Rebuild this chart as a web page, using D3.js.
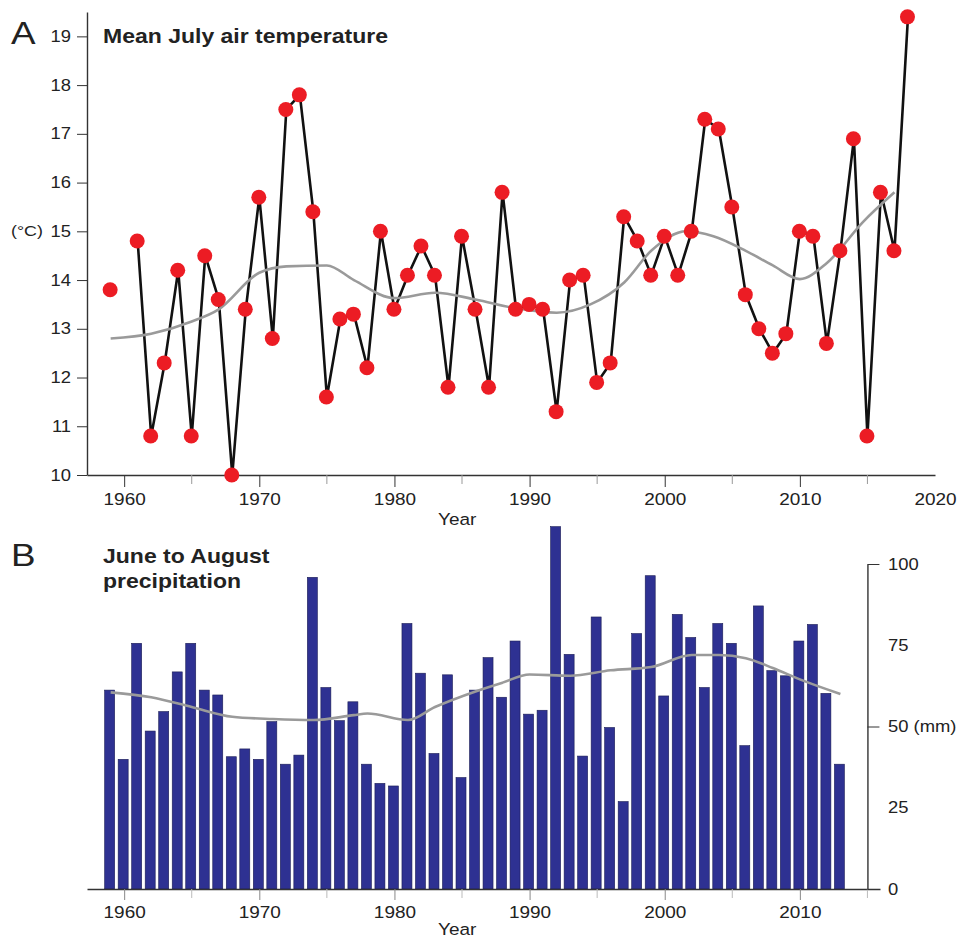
<!DOCTYPE html>
<html>
<head>
<meta charset="utf-8">
<script src="https://cdn.jsdelivr.net/npm/d3@7"></script>
<style>
  html, body { margin: 0; padding: 0; background: #fff; }
  svg { display: block; font-family: "Liberation Sans", Arial, sans-serif; }
</style>
</head>
<body>
<svg id="chart" width="961" height="938"></svg>
<script>
// Mean July air temperature (°C), 1959–2018 (1960 missing)
const tempYears = d3.range(1959, 2019);
const tempValues = [13.8, null, 14.8, 10.8, 12.3, 14.2, 10.8, 14.5, 13.6, 10.0,
  13.4, 15.7, 12.8, 17.5, 17.8, 15.4, 11.6, 13.2, 13.3, 12.2,
  15.0, 13.4, 14.1, 14.7, 14.1, 11.8, 14.9, 13.4, 11.8, 15.8,
  13.4, 13.5, 13.4, 11.3, 14.0, 14.1, 11.9, 12.3, 15.3, 14.8,
  14.1, 14.9, 14.1, 15.0, 17.3, 17.1, 15.5, 13.7, 13.0, 12.5,
  12.9, 15.0, 14.9, 12.7, 14.6, 16.9, 10.8, 15.8, 14.6, 19.4];

// Smoothed temperature trend
const tempTrendYears = [1959, 1962, 1965, 1967, 1970, 1972, 1975, 1977, 1980, 1983, 1986, 1989, 1992, 1994.5, 1997, 1999, 2001.6, 2003.6, 2006, 2008, 2010, 2012, 2014.7, 2017];
const tempTrendValues = [12.8, 12.9, 13.15, 13.4, 14.15, 14.28, 14.3, 14.0, 13.63, 13.74, 13.6, 13.42, 13.33, 13.5, 13.95, 14.6, 15.0, 14.9, 14.6, 14.3, 14.02, 14.35, 15.2, 15.8];

// June to August precipitation (mm), 1959–2013
const precipYears = d3.range(1959, 2014);
const precipValues = [61.2, 39.9, 75.6, 48.6, 54.6, 66.8, 75.6, 61.2, 59.7, 40.7,
  43.1, 39.9, 51.5, 38.4, 41.2, 95.9, 62.0, 51.8, 57.6, 38.4,
  32.5, 31.7, 81.7, 66.4, 41.7, 65.9, 34.3, 61.2, 71.2, 59.0,
  76.3, 53.8, 55.0, 111.5, 72.2, 40.9, 83.7, 49.7, 26.9, 78.6,
  96.4, 59.4, 84.5, 77.4, 62.0, 81.7, 75.6, 44.1, 87.1, 67.2,
  65.6, 76.3, 81.4, 60.2, 38.4];

// Smoothed precipitation trend
const precipTrendYears = [1959, 1962, 1965, 1968, 1971, 1974, 1977, 1978, 1981, 1983, 1986, 1988, 1990, 1993, 1996, 1999, 2002, 2004, 2006, 2008, 2010, 2013];
const precipTrendValues = [60.5, 59.0, 56.0, 53.0, 52.3, 52.0, 53.5, 54.0, 52.0, 56.0, 60.8, 63.5, 66.0, 65.6, 67.3, 68.3, 72.0, 72.0, 71.0, 68.0, 64.5, 60.0];

const tempTicks = d3.range(10, 20);
const decadeTicks = [1960, 1970, 1980, 1990, 2000, 2010, 2020];
const halfDecadeTicks = [1965, 1975, 1985, 1995, 2005, 2015];
const precipTicks = [0, 25, 50, 75, 100];

const svg = d3.select("#chart");
const ink = "#333";
const stretch = "scale(1.15,1)";

function text(x, y, str, size, weight, anchor) {
  svg.append("text")
    .attr("transform", `translate(${x},${y}) ${stretch}`)
    .attr("font-size", size)
    .attr("font-weight", weight || "normal")
    .attr("text-anchor", anchor || "start")
    .attr("fill", "#222")
    .text(str);
}

function styleAxis(g) {
  g.selectAll("path.domain").attr("stroke", ink).attr("stroke-width", 1.4);
  g.selectAll(".tick line").attr("stroke", ink).attr("stroke-width", 1);
  g.selectAll(".tick text").attr("fill", "#222").attr("transform", stretch)
    .attr("font-family", "Liberation Sans, Arial, sans-serif");
}

// ---------- Panel A: temperature ----------
const x = d3.scaleLinear().domain([1957.25, 2020]).range([87, 935]);
const yT = d3.scaleLinear().domain([10, 19.5]).range([475, 12]);

const gxA = svg.append("g").attr("transform", "translate(0,475)")
  .call(d3.axisBottom(x).tickValues(decadeTicks).tickFormat(d3.format("d")).tickSize(12).tickSizeOuter(0).tickPadding(6))
  .attr("font-size", 16.5);
styleAxis(gxA);
gxA.selectAll(".tick").filter(d => d === 2020).select("line").remove();
svg.append("g").attr("transform", "translate(0,475)")
  .selectAll("line").data(halfDecadeTicks).join("line")
  .attr("x1", d => x(d)).attr("x2", d => x(d)).attr("y1", 0).attr("y2", 9)
  .attr("stroke", "#999").attr("stroke-width", 1);

const gyA = svg.append("g").attr("transform", "translate(87,0)")
  .call(d3.axisLeft(yT).tickValues(tempTicks).tickFormat(d3.format("d")).tickSize(10).tickSizeOuter(0).tickPadding(3))
  .attr("font-size", 16);
styleAxis(gyA);
gyA.selectAll(".tick text").attr("transform", "translate(-1,0) " + stretch);

// yearly series line (gap where data are missing)
svg.append("path")
  .datum(tempYears.map((yr, i) => [yr, tempValues[i]]))
  .attr("fill", "none").attr("stroke", "#111").attr("stroke-width", 2.6)
  .attr("stroke-linejoin", "round")
  .attr("d", d3.line().defined(d => d[1] !== null).x(d => x(d[0])).y(d => yT(d[1])));

// trend curve
svg.append("path")
  .datum(tempTrendYears.map((yr, i) => [yr, tempTrendValues[i]]))
  .attr("fill", "none").attr("stroke", "#9a9a9a").attr("stroke-width", 2.6)
  .attr("d", d3.line().curve(d3.curveMonotoneX).x(d => x(d[0])).y(d => yT(d[1])));

// points
svg.append("g").selectAll("circle")
  .data(tempYears.map((yr, i) => [yr, tempValues[i]]).filter(d => d[1] !== null))
  .join("circle")
  .attr("cx", d => x(d[0]) - 0.5).attr("cy", d => yT(d[1])).attr("r", 7.5)
  .attr("fill", "#ec1c24");

text(11, 44, "A", 32);
text(103, 43, "Mean July air temperature", 20, "bold");
text(11, 236, "(°C)", 15.5);
text(438, 525, "Year", 16.5);

// ---------- Panel B: precipitation ----------
const yP = d3.scaleLinear().domain([0, 100]).range([889, 564]);
const barW = 10;

svg.append("g").selectAll("rect")
  .data(precipYears.map((yr, i) => [yr, precipValues[i]]))
  .join("rect")
  .attr("x", d => x(d[0]) - 1 - barW / 2)
  .attr("y", d => yP(d[1]))
  .attr("width", barW)
  .attr("height", d => yP(0) - yP(d[1]))
  .attr("fill", "#2e3192")
  .attr("stroke", "#1b1d55").attr("stroke-width", 0.6);

svg.append("path")
  .datum(precipTrendYears.map((yr, i) => [yr, precipTrendValues[i]]))
  .attr("fill", "none").attr("stroke", "#9a9a9a").attr("stroke-width", 2.6)
  .attr("d", d3.line().curve(d3.curveMonotoneX).x(d => x(d[0])).y(d => yP(d[1])));

// bottom year axis
const xB = x.copy().domain([1957.25, x.invert(880)]).range([87, 880]);
const gxB = svg.append("g").attr("transform", "translate(0,889)")
  .call(d3.axisBottom(xB).tickValues(decadeTicks.slice(0, 6)).tickFormat(d3.format("d")).tickSize(11).tickSizeOuter(0).tickPadding(6))
  .attr("font-size", 16.5);
styleAxis(gxB);
gxB.selectAll(".tick line").attr("stroke", "#888");
svg.append("g").attr("transform", "translate(0,889)")
  .selectAll("line").data(halfDecadeTicks).join("line")
  .attr("x1", d => x(d)).attr("x2", d => x(d)).attr("y1", 0).attr("y2", 9)
  .attr("stroke", "#bbb").attr("stroke-width", 1);

// right-hand precipitation axis at 2015
const gyB = svg.append("g").attr("transform", `translate(${x(2015)},0)`)
  .call(d3.axisRight(yP).tickValues(precipTicks).tickFormat(d => d === 50 ? "50 (mm)" : d).tickSize(12).tickSizeOuter(0).tickPadding(5))
  .attr("font-size", 16);
styleAxis(gyB);
gyB.selectAll(".tick").filter(d => d === 25 || d === 75).select("line").remove();
gyB.selectAll(".tick text").attr("transform", "translate(1,0) " + stretch);

text(11, 566, "B", 32);
text(103, 563, "June to August", 20, "bold");
text(103, 588, "precipitation", 20, "bold");
text(438, 935, "Year", 16.5);
</script>
</body>
</html>
